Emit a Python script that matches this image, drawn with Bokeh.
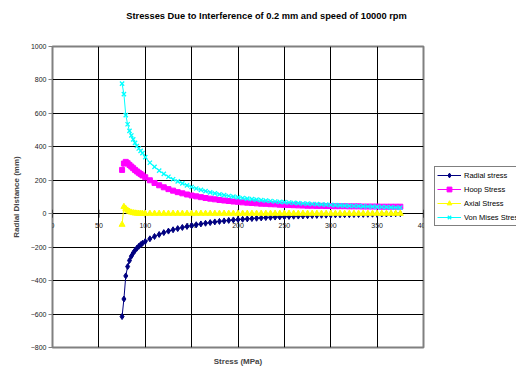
from bokeh.plotting import figure
from bokeh.layouts import row, column
from bokeh.models import Range1d, FixedTicker, Legend, LegendItem, ColumnDataSource
from bokeh.core.properties import value
from bokeh.embed import file_html
from bokeh.resources import INLINE

radius = [75, 77, 79, 81, 83, 85, 87, 89, 91, 93, 95, 97, 100,
          105, 110, 115, 120, 125, 130, 135, 140, 145, 150, 155, 160, 165, 170,
          175, 180, 185, 190, 195, 200, 205, 210, 215, 220, 225, 230, 235, 240,
          245, 250, 255, 260, 265, 270, 275, 280, 285, 290, 295, 300, 305, 310,
          315, 320, 325, 330, 335, 340, 345, 350, 355, 360, 365, 370, 375]

radial = [-615, -510, -372, -316, -280, -254, -235, -219, -206, -195, -185, -177, -166,
          -150, -136, -124, -113, -104, -96, -89, -82, -76, -71, -66, -61, -57, -53,
          -49, -46, -43, -40, -37, -35, -33, -31, -29, -27, -25, -23, -22, -20,
          -19, -18, -16, -15, -14, -13, -12, -11, -10, -9, -8.5, -8, -7, -6.5,
          -6, -5.5, -5, -4.5, -4, -3.5, -3, -2.5, -2, -1.5, -1, -0.5, 0]

hoop = [262, 300, 310, 302, 292, 282, 272, 262, 253, 245, 237, 229, 218,
        200, 184, 170, 158, 147, 138, 129, 122, 115, 109, 104, 99, 94, 90,
        86, 82, 79, 76, 73, 71, 68, 66, 64, 62, 60, 59, 57, 56,
        54, 53, 52, 51, 50, 49, 48, 48, 47, 47, 46, 46, 45, 45,
        45, 44, 44, 44, 43, 43, 43, 43, 42, 42, 42, 42, 42]

axial = [-65, 42, 30, 20, 13, 8, 5, 3, 2, 1.5, 1.5, 1, 1,
         1, 1, 1, 1, 1, 1, 1, 1, 1, 1, 1, 1, 1, 1,
         1, 1, 1, 1, 1, 1, 1, 1, 1, 1, 1, 1, 1, 1,
         1, 1, 1, 1, 1, 1, 1, 1, 1, 1, 1, 1, 1, 1,
         1, 1, 1, 1, 1, 1, 1, 1, 1, 1, 1, 1, 1]

von_mises = [778, 715, 590, 535, 495, 468, 445, 424, 405, 390, 376, 362, 338,
             305, 280, 258, 238, 221, 206, 193, 181, 170, 160, 151, 143, 135, 128,
             122, 116, 111, 106, 102, 98, 94, 90, 87, 84, 81, 78, 76, 73,
             71, 69, 67, 65, 63, 61, 60, 58, 57, 55, 54, 52, 51, 50,
             48, 47, 46, 45, 44, 43, 42, 41, 40, 39, 38, 37, 36]

series_labels = ["Radial stress", "Hoop Stress", "Axial Stress", "Von Mises Stress"]
series_colors = ["#000080", "#FF00FF", "#FFFF00", "#00FFFF"]

x_ticks = [0, 50, 100, 150, 200, 250, 300, 350, 400]
x_tick_labels = ["0", "50", "100", "150", "200", "250", "300", "350", "400"]
y_ticks = [-800, -600, -400, -200, 0, 200, 400, 600, 800, 1000]
x_grid = [50, 100, 150, 200, 250, 300, 350]
y_grid = [-600, -400, -200, 0, 200, 400, 600, 800]

TITLE = "Stresses Due to Interference of 0.2 mm and speed of 10000 rpm"
FONT = "Liberation Sans"
TITLE_H = 30
H = 368 - TITLE_H
TOP = 46 - TITLE_H
BOTTOM = 21


def bare(fig):
    fig.outline_line_color = None
    fig.grid.visible = False
    fig.background_fill_color = "white"
    fig.border_fill_color = "white"


# title strip
t = figure(width=516, height=TITLE_H, output_backend="svg", toolbar_location=None,
           x_axis_location=None, y_axis_location=None,
           x_range=Range1d(0, 516), y_range=Range1d(TITLE_H, 0),
           min_border_left=0, min_border_right=0, min_border_top=0,
           min_border_bottom=0)
bare(t)
t.text(x=[266], y=[15], text=[TITLE], text_font=value(FONT),
       text_font_size="9.3px", text_font_style="bold", text_color="black",
       text_align="center", text_baseline="middle")

# main chart
p = figure(width=432, height=H, output_backend="svg", toolbar_location=None,
           x_range=Range1d(0, 400), y_range=Range1d(-800, 1000),
           min_border_left=52, min_border_right=9, min_border_top=TOP,
           min_border_bottom=BOTTOM)
p.background_fill_color = "white"
p.border_fill_color = "white"
p.outline_line_color = "#808080"
p.outline_line_width = 2

p.xgrid.ticker = FixedTicker(ticks=x_grid)
p.ygrid.ticker = FixedTicker(ticks=y_grid)
for g in (p.xgrid, p.ygrid):
    g.grid_line_color = "black"
    g.grid_line_width = 1

p.yaxis.ticker = FixedTicker(ticks=y_ticks)
p.yaxis.axis_line_color = None
p.yaxis.major_tick_out = 4
p.yaxis.major_tick_in = 0
p.yaxis.major_tick_line_color = "#808080"
p.yaxis.minor_tick_line_color = None
p.yaxis.major_label_text_font = FONT
p.yaxis.major_label_text_font_size = "7px"
p.yaxis.major_label_text_color = "#222222"
p.yaxis.major_label_standoff = 2
p.yaxis.axis_label = "Radial Distance (mm)"
p.yaxis.axis_label_text_font = FONT
p.yaxis.axis_label_text_font_size = "8px"
p.yaxis.axis_label_text_font_style = "bold"
p.yaxis.axis_label_standoff = 7

p.xaxis.ticker = FixedTicker(ticks=[])
p.xaxis.axis_line_color = None
p.xaxis.major_tick_line_color = None
p.xaxis.minor_tick_line_color = None
p.xaxis.axis_label = "Stress (MPa)"
p.xaxis.axis_label_text_font = FONT
p.xaxis.axis_label_text_font_size = "8px"
p.xaxis.axis_label_text_font_style = "bold"
p.xaxis.axis_label_standoff = 9

tick_src = ColumnDataSource(dict(x=x_ticks, y=[0] * len(x_ticks), t=x_tick_labels))
p.scatter("x", "y", source=tick_src, marker="dash", angle=1.5708, size=8,
          line_color="black", line_width=1)
p.text("x", "y", text="t", source=tick_src, text_font=value(FONT),
       text_font_size="7px", text_color="#222222", text_align="center",
       text_baseline="top", y_offset=9)

markers = ["diamond", "square", "triangle", "x"]
sizes = [6, 5, 6, 6]
values = [radial, hoop, axial, von_mises]
for ys, col, mk, sz in zip(values, series_colors, markers, sizes):
    p.line(radius, ys, line_color=col, line_width=1)
    p.scatter(radius, ys, marker=mk, size=sz, line_color=col, fill_color=col,
              line_width=1.3 if mk == "x" else 1)

# legend strip: same series, drawn outside its (tiny) ranges so only the legend shows;
# its right side is cut by the window edge as in the reference
q = figure(width=84, height=H, output_backend="svg", toolbar_location=None,
           x_axis_location=None, y_axis_location=None,
           x_range=Range1d(0, 1), y_range=Range1d(0, 1),
           min_border_left=2, min_border_right=0, min_border_top=TOP,
           min_border_bottom=BOTTOM)
bare(q)
items = []
for lab, ys, col, mk, sz in zip(series_labels, values, series_colors, markers, sizes):
    ln = q.line(radius, ys, line_color=col, line_width=1)
    sc = q.scatter(radius, ys, marker=mk, size=sz, line_color=col, fill_color=col,
                   line_width=1.3 if mk == "x" else 1)
    items.append(LegendItem(label=lab, renderers=[ln, sc]))
frame_h = H - TOP - BOTTOM
legend_h = 58
legend = Legend(items=items, location=(0, frame_h - (168 - 46) - legend_h))
legend.border_line_color = "black"
legend.border_line_width = 1
legend.background_fill_color = "white"
legend.background_fill_alpha = 1
legend.label_text_font = FONT
legend.label_text_font_size = "7.5px"
legend.label_text_color = "black"
legend.glyph_width = 24
legend.glyph_height = 12
legend.label_height = 12
legend.label_standoff = 3
legend.spacing = 2
legend.padding = 2
legend.margin = 0
q.add_layout(legend)

layout = column(t, row(p, q, spacing=0), spacing=0)
open("out.html", "w").write(file_html(layout, INLINE))
